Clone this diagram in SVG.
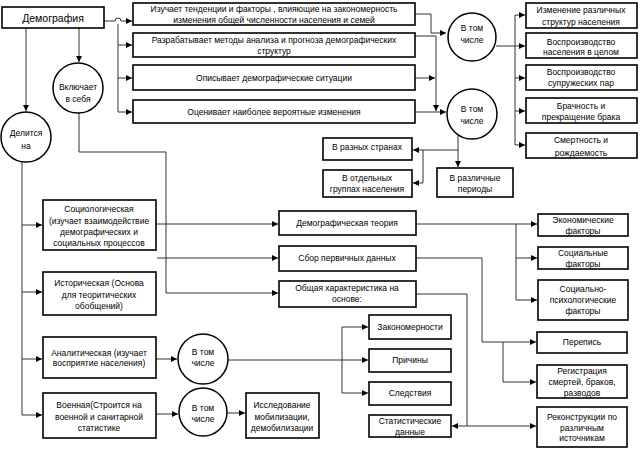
<svg xmlns="http://www.w3.org/2000/svg" width="640" height="449" viewBox="0 0 640 449">
<defs>
<marker id="ah" markerWidth="6" markerHeight="6" refX="6" refY="3" orient="auto" markerUnits="userSpaceOnUse">
<path d="M0,0 L6,3 L0,6 z" fill="#000"/>
</marker>
<style>
.b{fill:#fff;stroke:#000;stroke-width:1.6}
.c{fill:#fff;stroke:#000;stroke-width:1.5}
.t{font-family:"Liberation Sans",Arial,sans-serif;font-size:8.5px;fill:#000;text-anchor:middle}
.big{font-size:10.5px}
.l{fill:none;stroke:#333;stroke-width:1}
.a{marker-end:url(#ah)}
</style>
</defs>
<rect width="640" height="449" fill="#fff"/>
<g id="connectors">
<path class="l a" d="M26,28 V111"/>
<path class="l a" d="M79,28 V62"/>
<path class="l a" d="M104,21 H115 A3,3 0 0 1 121,21 H132"/>
<path class="l" d="M118,24 V112"/>
<path class="l a" d="M118,45 H132"/>
<path class="l a" d="M118,78 H132"/>
<path class="l a" d="M118,112 H132"/>
<path class="l a" d="M415,14 H431 V33 H446"/>
<path class="l a" d="M415,36 H436 V111"/>
<path class="l a" d="M415,78 H435"/>
<path class="l a" d="M415,112 H446"/>
<path class="l" d="M496,46 H515 M515,15 V145"/>
<path class="l a" d="M515,15 H525"/>
<path class="l a" d="M515,46 H525"/>
<path class="l a" d="M515,78 H525"/>
<path class="l a" d="M515,111 H525"/>
<path class="l a" d="M515,145 H525"/>
<path class="l a" d="M458,134 V167"/>
<path class="l a" d="M458,150 H413"/>
<path class="l a" d="M423,150 V183 H413"/>
<path class="l a" d="M79,113 V152 H166 V293 H278"/>
<path class="l a" d="M157,258 H278"/>
<path class="l a" d="M156,224 H278"/>
<path class="l" d="M22,162 V415"/>
<path class="l a" d="M22,225 H42"/>
<path class="l a" d="M22,292 H42"/>
<path class="l a" d="M22,359 H42"/>
<path class="l a" d="M22,415 H42"/>
<path class="l a" d="M156,359 H177"/>
<path class="l a" d="M156,414 H178"/>
<path class="l a" d="M227,413 H245"/>
<path class="l a" d="M228,360 H368"/>
<path class="l" d="M342,327 V393"/>
<path class="l a" d="M342,327 H368"/>
<path class="l a" d="M342,393 H368"/>
<path class="l a" d="M416,224 H537"/>
<path class="l" d="M516,224 V300"/>
<path class="l a" d="M516,258 H537"/>
<path class="l a" d="M516,300 H537"/>
<path class="l a" d="M416,258 H482 V342 H536"/>
<path class="l a" d="M503,342 V382 H536"/>
<path class="l" d="M416,294 H467 V426"/>
<path class="l a" d="M467,426 H452"/>
<path class="l a" d="M467,426 H536"/>
</g>
<g id="n-demografia"><rect class="b" x="2" y="7" width="102" height="21"/><text class="t big" x="53" y="22">Демография</text></g>
<g id="n-vklyuchaet"><circle class="c" cx="78" cy="88" r="25"/><text class="t" x="78" y="90">Включает</text><text class="t" x="78" y="102">в себя</text></g>
<g id="n-delitsya"><circle class="c" cx="26" cy="137" r="25"/><text class="t" x="26" y="136">Делится</text><text class="t" x="26" y="149">на</text></g>
<g id="n-izuchaet"><rect class="b" x="133" y="3" width="282" height="22"/><text class="t" x="274" y="11.5">Изучает тенденции и факторы , влияющие на закономерность</text><text class="t" x="274" y="23">изменения общей численности населения и семей</text></g>
<g id="n-razrabatyvaet"><rect class="b" x="133" y="33" width="282" height="24"/><text class="t" x="274" y="43">Разрабатывает методы анализа и прогноза демографических</text><text class="t" x="274" y="54">структур</text></g>
<g id="n-opisyvaet"><rect class="b" x="133" y="65" width="282" height="25"/><text class="t" x="274" y="81">Описывает демографические ситуации</text></g>
<g id="n-otsenivaet"><rect class="b" x="133" y="100" width="282" height="23"/><text class="t" x="274" y="115">Оценивает наиболее вероятные изменения</text></g>
<g id="n-vtom1"><circle class="c" cx="472" cy="37" r="24"/><text class="t" x="472" y="31">В том</text><text class="t" x="472" y="43">числе</text></g>
<g id="n-vtom2"><circle class="c" cx="472" cy="114" r="25"/><text class="t" x="472" y="112">В том</text><text class="t" x="472" y="124">числе</text></g>
<g id="n-izmenenie"><rect class="b" x="526" y="3" width="111" height="25"/><text class="t" x="581" y="13">Изменение различных</text><text class="t" x="581" y="25">структур населения</text></g>
<g id="n-vosproizv1"><rect class="b" x="526" y="33" width="111" height="25"/><text class="t" x="581" y="45">Воспроизводство</text><text class="t" x="581" y="55">населения в целом</text></g>
<g id="n-vosproizv2"><rect class="b" x="526" y="65" width="111" height="25"/><text class="t" x="581" y="75">Воспроизводство</text><text class="t" x="581" y="86">супружеских пар</text></g>
<g id="n-brachnost"><rect class="b" x="526" y="98" width="111" height="25"/><text class="t" x="581" y="109">Брачность и</text><text class="t" x="581" y="120">прекращение брака</text></g>
<g id="n-smertnost"><rect class="b" x="526" y="133" width="111" height="25"/><text class="t" x="581" y="143">Смертность и</text><text class="t" x="581" y="156">рождаемость</text></g>
<g id="n-strany"><rect class="b" x="323" y="138" width="89" height="22"/><text class="t" x="367" y="150">В разных странах</text></g>
<g id="n-gruppy"><rect class="b" x="323" y="170" width="89" height="27"/><text class="t" x="367" y="181">В отдельных</text><text class="t" x="367" y="192">группах населения</text></g>
<g id="n-periody"><rect class="b" x="437" y="168" width="76" height="29"/><text class="t" x="475" y="181">В различные</text><text class="t" x="475" y="192">периоды</text></g>
<g id="n-sotsiol"><rect class="b" x="43" y="200" width="113" height="50"/><text class="t" x="99" y="212">Социологическая</text><text class="t" x="99" y="224">(изучает взаимодействие</text><text class="t" x="99" y="235">демографических и</text><text class="t" x="99" y="246">социальных процессов</text></g>
<g id="n-istor"><rect class="b" x="43" y="272" width="113" height="43"/><text class="t" x="99" y="286">Историческая (Основа</text><text class="t" x="99" y="298">для теоритических</text><text class="t" x="99" y="309">обобщений)</text></g>
<g id="n-analit"><rect class="b" x="43" y="337" width="113" height="41"/><text class="t" x="99" y="356">Аналитическая (изучает</text><text class="t" x="99" y="366">восприятие населения)</text></g>
<g id="n-voennaya"><rect class="b" x="43" y="393" width="113" height="45"/><text class="t" x="99" y="408">Военная(Строится на</text><text class="t" x="99" y="420">военной и санитарной</text><text class="t" x="99" y="431">статистике</text></g>
<g id="n-vtom3"><circle class="c" cx="203" cy="359" r="25"/><text class="t" x="203" y="355">В том</text><text class="t" x="203" y="366">числе</text></g>
<g id="n-vtom4"><circle class="c" cx="203" cy="412" r="24"/><text class="t" x="203" y="411">В том</text><text class="t" x="203" y="422">числе</text></g>
<g id="n-issled"><rect class="b" x="246" y="393" width="73" height="45"/><text class="t" x="282" y="408">Исследование</text><text class="t" x="282" y="420">мобилизации,</text><text class="t" x="282" y="431">демобилизации</text></g>
<g id="n-teoriya"><rect class="b" x="279" y="211" width="137" height="24"/><text class="t" x="347" y="226">Демографическая теория</text></g>
<g id="n-sbor"><rect class="b" x="279" y="246" width="137" height="25"/><text class="t" x="347" y="261">Сбор первичных данных</text></g>
<g id="n-obshaya"><rect class="b" x="279" y="281" width="137" height="26"/><text class="t" x="347" y="291">Общая характеристика на</text><text class="t" x="347" y="302">основе:</text></g>
<g id="n-ekonom"><rect class="b" x="538" y="214" width="90" height="22"/><text class="t" x="583" y="223">Экономические</text><text class="t" x="583" y="234">факторы</text></g>
<g id="n-sotsialnye"><rect class="b" x="538" y="247" width="90" height="22"/><text class="t" x="583" y="256">Социальные</text><text class="t" x="583" y="267">факторы</text></g>
<g id="n-psiho"><rect class="b" x="538" y="280" width="90" height="40"/><text class="t" x="583" y="292">Социально-</text><text class="t" x="583" y="303">психологические</text><text class="t" x="583" y="314">факторы</text></g>
<g id="n-perepis"><rect class="b" x="537" y="332" width="90" height="21"/><text class="t" x="582" y="345">Перепись</text></g>
<g id="n-registr"><rect class="b" x="537" y="365" width="90" height="33"/><text class="t" x="582" y="374">Регистрация</text><text class="t" x="582" y="385">смертей, браков,</text><text class="t" x="582" y="396">разводов</text></g>
<g id="n-rekonstr"><rect class="b" x="537" y="407" width="90" height="40"/><text class="t" x="582" y="420">Реконструкции по</text><text class="t" x="582" y="431">различным</text><text class="t" x="582" y="441">источникам</text></g>
<g id="n-zakonom"><rect class="b" x="369" y="315" width="82" height="24"/><text class="t" x="410" y="330">Закономерности</text></g>
<g id="n-prichiny"><rect class="b" x="369" y="349" width="82" height="23"/><text class="t" x="410" y="363">Причины</text></g>
<g id="n-sledstviya"><rect class="b" x="369" y="382" width="82" height="23"/><text class="t" x="410" y="396">Следствия</text></g>
<g id="n-statist"><rect class="b" x="369" y="415" width="82" height="22"/><text class="t" x="410" y="424">Статистические</text><text class="t" x="410" y="435">данные</text></g>
</svg>
